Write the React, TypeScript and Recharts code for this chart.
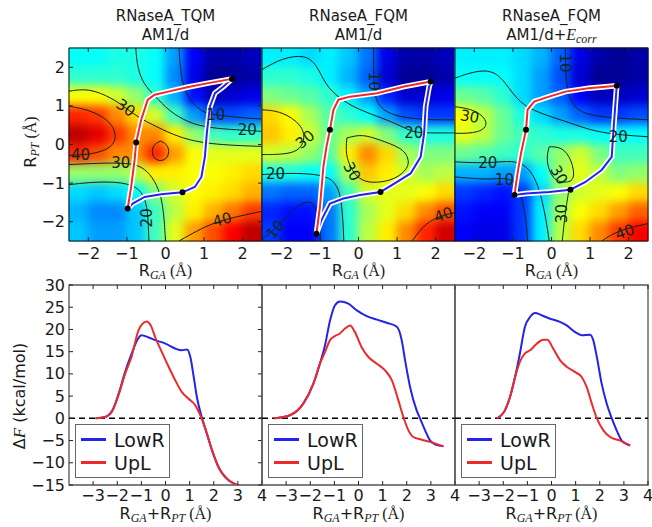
import React from "react";
import { ComposedChart, Line, Scatter, XAxis, YAxis, ReferenceArea, ReferenceLine, Legend } from "recharts";

const FONT = "'DejaVu Sans', Verdana, sans-serif";
const SERIF = "'Liberation Serif', 'DejaVu Serif', serif";
const INK = "#1a1a1a";
const BLUE = "#2424e6";
const RED = "#ec2a2a";

const PLOT = 193; // each panel's plot box, px
const PANEL_LEFT = [69, 262, 455];
const VMAX = 50; // colour scale top (kcal/mol)
const CELL = PLOT / 10 + 1;

// free-energy map cells, centres in Å
const cellX = [-2.25, -1.75, -1.25, -0.75, -0.25, 0.25, 0.75, 1.25, 1.75, 2.25];
const cellY = [2.25, 1.75, 1.25, 0.75, 0.25, -0.25, -0.75, -1.25, -1.75, -2.25];

// rows top -> bottom
const heatTQM = [
  [19, 19, 20, 20, 19, 14, 6, 2, 2, 3],
  [21, 21, 21, 20, 19, 13, 5, 1, 1, 2],
  [31, 31, 29, 26, 21, 15, 7, 3, 4, 5],
  [42, 41, 37, 33, 29, 22, 14, 10, 10, 11],
  [47, 45, 41, 37, 37, 32, 26, 22, 21, 21],
  [42, 40, 37, 37, 42, 36, 31, 30, 30, 30],
  [26, 26, 26, 28, 32, 32, 31, 31, 32, 33],
  [17, 16, 17, 19, 25, 29, 31, 32, 33, 35],
  [15, 13, 13, 16, 22, 28, 32, 35, 38, 41],
  [16, 14, 14, 16, 22, 30, 36, 40, 44, 47],
];
const heatFQM = [
  [18, 18, 17, 18, 16, 12, 5, 2, 2, 3],
  [21, 21, 20, 18, 15, 11, 4, 1, 1, 2],
  [25, 24, 23, 21, 18, 14, 8, 4, 4, 5],
  [33, 31, 27, 23, 21, 19, 14, 10, 9, 9],
  [34, 32, 29, 24, 27, 29, 25, 21, 20, 20],
  [29, 28, 26, 23, 32, 37, 33, 27, 25, 25],
  [20, 20, 19, 19, 27, 34, 32, 29, 27, 28],
  [12, 11, 11, 14, 22, 29, 30, 30, 31, 33],
  [8, 7, 7, 12, 21, 27, 30, 33, 37, 40],
  [9, 6, 6, 12, 21, 28, 32, 37, 42, 46],
];
const heatFQMcorr = [
  [18, 18, 18, 17, 15, 11, 5, 2, 1, 2],
  [19, 19, 19, 17, 14, 10, 4, 1, 1, 2],
  [24, 23, 21, 17, 14, 11, 6, 3, 3, 4],
  [31, 28, 24, 20, 17, 14, 11, 9, 9, 10],
  [30, 28, 24, 22, 21, 20, 20, 19, 19, 19],
  [24, 23, 22, 21, 23, 26, 29, 25, 22, 22],
  [15, 15, 14, 14, 19, 27, 30, 28, 25, 26],
  [9, 8, 7, 9, 17, 26, 29, 30, 31, 33],
  [7, 6, 6, 9, 18, 27, 31, 33, 36, 39],
  [6, 5, 5, 9, 18, 28, 33, 37, 41, 44],
];

// contour lines [x, y] in Å
const tqmContours = [
  [[0.35, 2.5], [0.38, 1.98], [0.48, 1.38], [0.73, 1.03], [1.0, 0.82], [1.3, 0.77], [1.85, 0.7], [2.5, 0.66]],
  [[-0.77, 2.5], [-0.73, 1.98], [-0.56, 1.55], [-0.3, 1.29], [0.09, 0.86], [0.61, 0.56], [1.13, 0.43], [1.85, 0.38], [2.5, 0.34]],
  [[-2.5, 1.38], [-1.98, 1.46], [-1.38, 1.2], [-1.03, 0.95], [-0.69, 0.69], [-0.25, 0.47], [0.35, 0.18], [1.13, 0.0], [2.5, -0.05]],
  [[-2.5, 0.99], [-1.98, 0.9], [-1.46, 0.64], [-1.25, 0.25], [-1.38, -0.09], [-1.9, -0.26], [-2.5, -0.28]],
  [[-0.13, 0.09], [0.09, -0.02], [0.09, -0.34], [-0.13, -0.45], [-0.35, -0.34], [-0.35, -0.02], [-0.13, 0.09]],
  [[-2.5, -0.52], [-1.65, -0.48], [-1.15, -0.48], [-0.7, -0.52], [-0.4, -0.75], [-0.17, -1.15], [-0.05, -1.65], [0.0, -2.5]],
  [[-2.5, -1.04], [-1.65, -0.95], [-0.95, -1.0], [-0.6, -1.2], [-0.47, -1.65], [-0.45, -2.0], [-0.43, -2.5]],
  [[0.35, -2.5], [0.95, -2.16], [1.47, -1.95], [2.5, -1.73]],
];
const fqmContours = [
  [[0.39, 2.5], [0.39, 1.38], [0.52, 0.95], [0.95, 0.73], [1.65, 0.64], [2.5, 0.64]],
  [[-2.5, 1.94], [-1.98, 2.24], [-1.38, 2.33], [-1.08, 2.07], [-0.86, 1.55], [-0.51, 1.2], [0.0, 0.9], [0.61, 0.69], [1.13, 0.47], [1.43, 0.3], [1.99, 0.3], [2.5, 0.3]],
  [[-2.5, 0.9], [-1.98, 0.86], [-1.46, 0.51], [-1.38, 0.13], [-1.55, -0.18], [-1.98, -0.26], [-2.5, -0.26]],
  [[-2.5, -0.78], [-2.15, -0.76], [-1.64, -0.74], [-0.95, -0.78], [-0.6, -0.95], [-0.43, -1.39], [-0.38, -2.5]],
  [[-0.3, 0.17], [0.09, 0.27], [0.52, 0.13], [1.13, -0.09], [1.3, -0.35], [1.3, -0.61], [0.95, -0.91], [0.44, -1.0], [0.09, -0.95], [-0.17, -0.7], [-0.34, -0.26], [-0.3, 0.17]],
  [[-2.5, -2.45], [-2.1, -2.15], [-1.65, -1.6], [-1.25, -1.42], [-1.05, -1.7], [-0.98, -2.5]],
  [[1.39, -2.5], [1.73, -2.03], [2.2, -1.82], [2.5, -1.77]],
];
const fqmcContours = [
  [[0.36, 2.5], [0.36, 1.59], [0.53, 0.98], [0.96, 0.72], [2.5, 0.64]],
  [[-2.5, 1.72], [-2.03, 1.89], [-1.52, 1.94], [-1.18, 1.59], [-0.83, 1.07], [-0.32, 0.81], [0.53, 0.55], [1.22, 0.29], [2.5, 0.2]],
  [[-2.5, 0.98], [-1.94, 0.9], [-1.6, 0.55], [-1.86, 0.29], [-2.5, 0.29]],
  [[-2.5, -0.45], [-1.6, -0.49], [-1.0, -0.4], [-0.58, -0.58], [-0.32, -1.1], [-0.15, -1.88], [-0.06, -2.5]],
  [[-2.5, -0.84], [-1.6, -0.92], [-1.09, -0.84], [-0.83, -1.1], [-0.66, -1.88], [-0.62, -2.5]],
  [[-0.06, -0.06], [-0.15, -0.4], [0.02, -0.92], [0.36, -1.0], [0.62, -0.92], [0.53, -0.4], [0.28, -0.06], [-0.06, -0.06]],
  [[0.45, -1.18], [0.35, -1.8], [0.28, -2.5]],
  [[1.3, -2.5], [1.73, -2.22], [2.5, -2.05]],
];

// contour labels [x, y, text, rotation]
const tqmLabels: [number, number, string, number][] = [
  [-1.03, 0.95, "30", 35], [1.3, 0.77, "10", 0], [2.12, 0.38, "20", 0], [-2.2, -0.26, "40", 0],
  [-1.16, -0.48, "30", 0], [-0.47, -1.9, "20", -90], [1.47, -1.95, "40", -15],
];
const fqmLabels: [number, number, string, number][] = [
  [0.39, 1.64, "10", 90], [1.43, 0.3, "20", 0], [-1.38, 0.13, "30", -40], [-2.15, -0.76, "20", 0],
  [-0.17, -0.7, "30", 60], [-2.15, -2.2, "10", -50], [2.2, -1.82, "40", -20],
];
const fqmcLabels: [number, number, string, number][] = [
  [0.36, 2.11, "10", 90], [-2.12, 0.72, "30", 10], [1.73, 0.2, "20", 0], [-1.65, -0.49, "20", 0],
  [-1.22, -0.92, "10", 0], [0.19, -0.79, "30", 60], [0.28, -1.79, "30", -90], [1.9, -2.27, "40", -20],
];

// reaction paths on the maps
const tqmUpLPath = [[-0.98, -1.66], [-0.89, -1.1], [-0.8, -0.4], [-0.76, 0.05], [-0.63, 0.64], [-0.46, 1.16], [-0.28, 1.29], [0.07, 1.37], [0.59, 1.49], [1.11, 1.59], [1.72, 1.7]];
const tqmLowRPath = [[-0.98, -1.66], [-0.85, -1.53], [-0.54, -1.36], [-0.11, -1.29], [0.44, -1.24], [0.76, -1.1], [0.93, -0.84], [1.02, -0.32], [1.07, 0.29], [1.15, 0.98], [1.28, 1.33], [1.5, 1.5], [1.72, 1.7]];
const tqmDots = [[-0.98, -1.66], [-0.76, 0.05], [0.44, -1.24], [1.72, 1.7]];

const fqmUpLPath = [[-1.09, -2.31], [-1.0, -1.62], [-0.91, -0.58], [-0.83, -0.06], [-0.74, 0.38], [-0.65, 0.9], [-0.52, 1.16], [-0.22, 1.24], [0.48, 1.33], [1.18, 1.5], [1.87, 1.63]];
const fqmLowRPath = [[-1.09, -2.31], [-0.96, -1.96], [-0.74, -1.53], [-0.39, -1.4], [0.04, -1.31], [0.57, -1.23], [1.0, -0.97], [1.35, -0.75], [1.61, -0.32], [1.7, 0.29], [1.74, 0.98], [1.83, 1.5], [1.87, 1.63]];
const fqmDots = [[-1.09, -2.31], [-0.74, 0.38], [0.57, -1.23], [1.87, 1.63]];

const fqmcUpLPath = [[-0.96, -1.31], [-0.88, -0.75], [-0.79, -0.23], [-0.66, 0.38], [-0.62, 0.9], [-0.45, 1.11], [-0.06, 1.24], [0.36, 1.37], [0.96, 1.46], [1.69, 1.52]];
const fqmcLowRPath = [[-0.96, -1.31], [-0.66, -1.27], [-0.06, -1.23], [0.49, -1.17], [0.88, -0.97], [1.3, -0.66], [1.56, -0.32], [1.6, 0.29], [1.65, 0.98], [1.69, 1.52]];
const fqmcDots = [[-0.96, -1.31], [-0.66, 0.38], [0.49, -1.17], [1.69, 1.52]];

// free-energy profiles along R_GA + R_PT
const tqmLowR = [[-2.9, 0], [-2.5, 0.3], [-2.2, 1.8], [-1.9, 6.3], [-1.7, 10], [-1.4, 14.6], [-1.15, 17.8], [-1.0, 18.7], [-0.7, 18.2], [-0.43, 17.6], [0, 16.8], [0.4, 15.7], [0.68, 15.3], [0.89, 15.5], [1.03, 13.8], [1.17, 9.3], [1.3, 4.8], [1.5, 0.3], [1.65, -2.3], [1.93, -7.2], [2.2, -11], [2.63, -14], [2.97, -15], [3.1, -15.3]];
const tqmUpL = [[-2.9, 0], [-2.5, 0.3], [-2.2, 1.7], [-1.9, 6.0], [-1.7, 9.6], [-1.4, 14.0], [-1.12, 19.8], [-0.95, 21.3], [-0.79, 21.8], [-0.6, 20.8], [-0.43, 18.3], [-0.15, 14.9], [0.13, 11.6], [0.4, 8.6], [0.68, 5.9], [0.96, 4.4], [1.24, 2.9], [1.44, 0.7], [1.65, -2.3], [1.93, -7.2], [2.2, -11], [2.63, -14], [2.97, -15], [3.1, -15.3]];

const fqmLowR = [[-3.5, 0], [-2.84, 0.7], [-2.29, 3.3], [-1.87, 7.8], [-1.6, 12.3], [-1.39, 16.4], [-1.18, 22], [-0.98, 25.4], [-0.77, 26.3], [-0.42, 25.8], [-0.07, 24.3], [0.34, 23], [0.76, 22.2], [1.17, 21.5], [1.59, 20.6], [1.79, 17.6], [1.93, 13.1], [2.14, 7], [2.41, 1.8], [2.55, 0], [2.76, -2.7], [2.97, -5], [3.2, -5.9], [3.52, -6.3]];
const fqmUpL = [[-3.5, 0], [-2.84, 0.7], [-2.29, 3.3], [-1.87, 7.8], [-1.6, 12.3], [-1.39, 14.9], [-1.18, 17.6], [-0.98, 18.5], [-0.77, 19.1], [-0.56, 20.2], [-0.35, 20.9], [-0.15, 19.4], [0.13, 16], [0.41, 13.8], [0.76, 12.3], [1.1, 10.8], [1.38, 8.6], [1.65, 4.1], [1.86, 0.3], [2.07, -2.7], [2.27, -4.2], [2.62, -4.8], [2.97, -5.3], [3.52, -6.3]];

const fqmcLowR = [[-2.27, 0], [-1.93, 1.8], [-1.72, 4.8], [-1.51, 9.3], [-1.31, 14.6], [-1.1, 20.6], [-0.89, 22.8], [-0.68, 23.7], [-0.41, 23.2], [-0.06, 22.4], [0.35, 21.7], [0.63, 20.9], [0.98, 19.4], [1.25, 18.7], [1.6, 18.8], [1.73, 17.6], [1.88, 13.8], [2.08, 7.8], [2.29, 3.3], [2.5, 0], [2.7, -2.7], [2.91, -5], [3.26, -6.1]];
const fqmcUpL = [[-2.27, 0], [-1.93, 1.8], [-1.72, 4.8], [-1.51, 9.3], [-1.31, 12.7], [-1.1, 14.6], [-0.89, 15.3], [-0.61, 16.8], [-0.34, 17.7], [-0.17, 17.7], [0.07, 15.7], [0.35, 13.1], [0.63, 11.6], [0.98, 10.4], [1.25, 9.3], [1.46, 7], [1.67, 3.3], [1.88, 0], [2.15, -2.7], [2.43, -4.2], [2.84, -5], [3.26, -6.1]];

const mapTicks = [-2, -1, 0, 1, 2];
const profXTicks = [-3, -2, -1, 0, 1, 2, 3, 4];
const profYTicks = [-15, -10, -5, 0, 5, 10, 15, 20, 25, 30];

const pts = (a: number[][]) => a.map(([x, y]) => ({ x, y }));
const fmt = (v: number) => String(v).replace("-", "\u2212");
const clamp = (v: number) => Math.max(0, Math.min(1, v));
function jet(t: number) {
  const r = clamp(1.5 - Math.abs(4 * t - 3));
  const g = clamp(1.5 - Math.abs(4 * t - 2));
  const b = clamp(1.5 - Math.abs(4 * t - 1));
  return `rgb(${Math.round(r * 255)},${Math.round(g * 255)},${Math.round(b * 255)})`;
}

const XTick = (p: any) => (
  <g>
    <line x1={p.x} x2={p.x} y1={p.bottom} y2={p.bottom - 4} stroke="#222" />
    <line x1={p.x} x2={p.x} y1={p.top} y2={p.top + 4} stroke="#222" />
    <text x={p.x} y={p.bottom + p.gap} textAnchor="middle" dominantBaseline="central" fontSize={16} fontFamily={FONT} fill={INK}>
      {fmt(p.payload.value)}
    </text>
  </g>
);

const YTick = (p: any) => (
  <g>
    <line x1={p.left} x2={p.left + 4} y1={p.y} y2={p.y} stroke="#222" />
    <line x1={p.right - 4} x2={p.right} y1={p.y} y2={p.y} stroke="#222" />
    {p.label && (
      <text x={p.left - 4} y={p.y} textAnchor="end" dominantBaseline="central" fontSize={16} fontFamily={FONT} fill={INK}>
        {fmt(p.payload.value)}
      </text>
    )}
  </g>
);

const HeatCell = (p: any) => (
  <rect x={p.cx - CELL / 2} y={p.cy - CELL / 2} width={CELL} height={CELL} fill={jet(p.payload.v / VMAX)} />
);

const ContourLabel = (p: any) => (
  <text x={p.cx} y={p.cy} transform={`rotate(${p.payload.rot} ${p.cx} ${p.cy})`} textAnchor="middle" dominantBaseline="central" fontSize={15} fontFamily={FONT} fill="#10261c">
    {p.payload.t}
  </text>
);

const PathDot = (p: any) => <circle cx={p.cx} cy={p.cy} r={3} fill="#000" />;

const lineProps = { dataKey: "y", dot: false, activeDot: false, isAnimationActive: false, legendType: "none" as const };

function MapPanel({ idx, grid, contours, labels, upl, lowr, dots }: any) {
  const first = idx === 0;
  const lm = first ? 69 : 0;
  const cells = grid.flatMap((row: number[], r: number) => row.map((v, c) => ({ x: cellX[c], y: cellY[r], v })));
  const lbl = labels.map(([x, y, t, rot]: any) => ({ x, y, t, rot }));
  return (
    <div style={{ position: "absolute", left: PANEL_LEFT[idx] - lm, top: 0 }}>
      <ComposedChart width={lm + PLOT} height={270} margin={{ top: 48, right: 0, bottom: 4, left: first ? 29 : 0 }}>
        <XAxis type="number" dataKey="x" domain={[-2.5, 2.5]} ticks={mapTicks} interval={0} allowDataOverflow height={25}
          axisLine={false} tickLine={false} tickSize={0} tick={<XTick top={48} bottom={241} gap={12} />} />
        <YAxis type="number" dataKey="y" domain={[-2.5, 2.5]} ticks={mapTicks} interval={0} allowDataOverflow width={first ? 40 : 0}
          axisLine={false} tickLine={false} tickSize={0} tick={<YTick left={lm} right={lm + PLOT} label={first} />} />
        <Scatter className="heat" data={cells} shape={HeatCell} isAnimationActive={false} zIndex={-50} />
        {contours.map((c: number[][], i: number) => (
          <Line key={"c" + i} data={pts(c)} type="basis" stroke="#14221a" strokeWidth={1} {...lineProps} />
        ))}
        <Line data={pts(lowr)} type="linear" stroke="#fff" strokeWidth={5.5} {...lineProps} />
        <Line data={pts(lowr)} type="linear" stroke={BLUE} strokeWidth={2} {...lineProps} />
        <Line data={pts(upl)} type="linear" stroke="#fff" strokeWidth={5.5} {...lineProps} />
        <Line data={pts(upl)} type="linear" stroke={RED} strokeWidth={2} {...lineProps} />
        <Scatter data={lbl} shape={ContourLabel} isAnimationActive={false} />
        <Scatter data={pts(dots)} shape={PathDot} isAnimationActive={false} />
        <ReferenceArea x1={-2.5} x2={2.5} y1={-2.5} y2={2.5} fill="none" stroke="#111" strokeWidth={1} fillOpacity={0} />
      </ComposedChart>
    </div>
  );
}

const LegendBox = (props: any) => (
  <div style={{ boxSizing: "border-box", width: 95, height: 54, border: "1.5px solid #666", background: "#fff",
    fontFamily: FONT, fontSize: 19, color: INK, padding: "3px 0 0 5px" }}>
    {(props.payload || []).map((item: any) => (
      <div key={item.value} style={{ display: "flex", alignItems: "center", height: 23 }}>
        <span style={{ display: "inline-block", width: 25, height: 2.5, background: item.color, marginRight: 8 }} />
        <span>{item.value}</span>
      </div>
    ))}
  </div>
);

function ProfilePanel({ idx, lowr, upl }: any) {
  const first = idx === 0;
  const lm = first ? 69 : 0;
  return (
    <div style={{ position: "absolute", left: PANEL_LEFT[idx] - lm, top: 275 }}>
      <ComposedChart width={lm + PLOT} height={252} margin={{ top: 10, right: 0, bottom: 12, left: first ? 19 : 0 }}>
        <XAxis type="number" dataKey="x" domain={[-4, 4]} ticks={profXTicks} interval={0} allowDataOverflow height={30}
          axisLine={false} tickLine={false} tickSize={0} tick={<XTick top={10} bottom={210} gap={10} />} />
        <YAxis type="number" dataKey="y" domain={[-15, 30]} ticks={profYTicks} interval={0} allowDataOverflow width={first ? 50 : 0}
          axisLine={false} tickLine={false} tickSize={0} tick={<YTick left={lm} right={lm + PLOT} label={first} />} />
        <ReferenceLine y={0} stroke="#000" strokeDasharray="6 4" strokeWidth={1.5} />
        <Line name="LowR" data={pts(lowr)} dataKey="y" type="monotone" stroke={BLUE} strokeWidth={2} dot={false} activeDot={false} isAnimationActive={false} />
        <Line name="UpL" data={pts(upl)} dataKey="y" type="monotone" stroke={RED} strokeWidth={2} dot={false} activeDot={false} isAnimationActive={false} />
        <ReferenceArea x1={-4} x2={4} y1={-15} y2={30} fill="none" fillOpacity={0} stroke="#555" strokeWidth={1.3} />
        <Legend layout="horizontal" verticalAlign="middle" align="center" content={LegendBox}
          wrapperStyle={{ left: lm + 6, top: 149, width: 95, height: 54 }} />
      </ComposedChart>
    </div>
  );
}

const sub = { fontFamily: SERIF, fontStyle: "italic" as const, fontSize: 12 };

function Overlay() {
  const centers = PANEL_LEFT.map((l) => l + PLOT / 2);
  const titles = ["RNaseA_TQM", "RNaseA_FQM", "RNaseA_FQM"];
  return (
    <svg width={652} height={527} style={{ position: "absolute", left: 0, top: 0, pointerEvents: "none" }} fontFamily={FONT} fill={INK} fontSize={15}>
      {titles.map((t, i) => (
        <text key={"t" + i} x={centers[i]} y={21} textAnchor="middle">{t}</text>
      ))}
      <text x={centers[0]} y={40} textAnchor="middle">AM1/d</text>
      <text x={centers[1]} y={40} textAnchor="middle">AM1/d</text>
      <text x={centers[2]} y={40} textAnchor="middle">
        AM1/d+<tspan fontFamily={SERIF} fontStyle="italic" fontSize={16}>E</tspan>
        <tspan {...sub} dy={3}>corr</tspan>
      </text>
      {centers.map((c, i) => (
        <text key={"xa" + i} x={c} y={276} textAnchor="middle" fontSize={16}>
          R<tspan {...sub} dy={3}>GA</tspan>
          <tspan dy={-3} fontFamily={SERIF}> (Å)</tspan>
        </text>
      ))}
      {centers.map((c, i) => (
        <text key={"xb" + i} x={c} y={519} textAnchor="middle" fontSize={16}>
          R<tspan {...sub} dy={2.5}>GA</tspan>
          <tspan dy={-2.5}>+R</tspan>
          <tspan {...sub} dy={2.5}>PT</tspan>
          <tspan dy={-2.5} fontFamily={SERIF}> (Å)</tspan>
        </text>
      ))}
      <text transform="translate(36 142) rotate(-90)" textAnchor="middle" fontSize={16}>
        R<tspan {...sub} dy={3}>PT</tspan>
        <tspan dy={-3} fontFamily={SERIF}> (Å)</tspan>
      </text>
      <text transform="translate(25 396) rotate(-90)" textAnchor="middle" fontSize={16}>
        Δ<tspan fontFamily={SERIF} fontStyle="italic" fontSize={17}>F</tspan> (kcal/mol)
      </text>
    </svg>
  );
}

export default function App() {
  return (
    <div style={{ position: "absolute", left: 0, top: 0, width: 652, height: 527, background: "#fff", overflow: "hidden" }}>
      <style>{`.recharts-surface{overflow:visible}.heat{filter:url(#heatBlur);clip-path:url(#heatClip)}`}</style>
      <svg width={0} height={0} style={{ position: "absolute" }}>
        <defs>
          <filter id="heatBlur" x="-10%" y="-10%" width="120%" height="120%" colorInterpolationFilters="sRGB">
            <feGaussianBlur stdDeviation={5} />
            <feComponentTransfer>
              <feFuncA type="linear" slope={40} intercept={0} />
            </feComponentTransfer>
          </filter>
          <clipPath id="heatClip" clipPathUnits="objectBoundingBox">
            <rect x={0} y={0} width={1} height={1} />
          </clipPath>
        </defs>
      </svg>
      <MapPanel idx={0} grid={heatTQM} contours={tqmContours} labels={tqmLabels} upl={tqmUpLPath} lowr={tqmLowRPath} dots={tqmDots} />
      <MapPanel idx={1} grid={heatFQM} contours={fqmContours} labels={fqmLabels} upl={fqmUpLPath} lowr={fqmLowRPath} dots={fqmDots} />
      <MapPanel idx={2} grid={heatFQMcorr} contours={fqmcContours} labels={fqmcLabels} upl={fqmcUpLPath} lowr={fqmcLowRPath} dots={fqmcDots} />
      <ProfilePanel idx={0} lowr={tqmLowR} upl={tqmUpL} />
      <ProfilePanel idx={1} lowr={fqmLowR} upl={fqmUpL} />
      <ProfilePanel idx={2} lowr={fqmcLowR} upl={fqmcUpL} />
      <Overlay />
    </div>
  );
}
